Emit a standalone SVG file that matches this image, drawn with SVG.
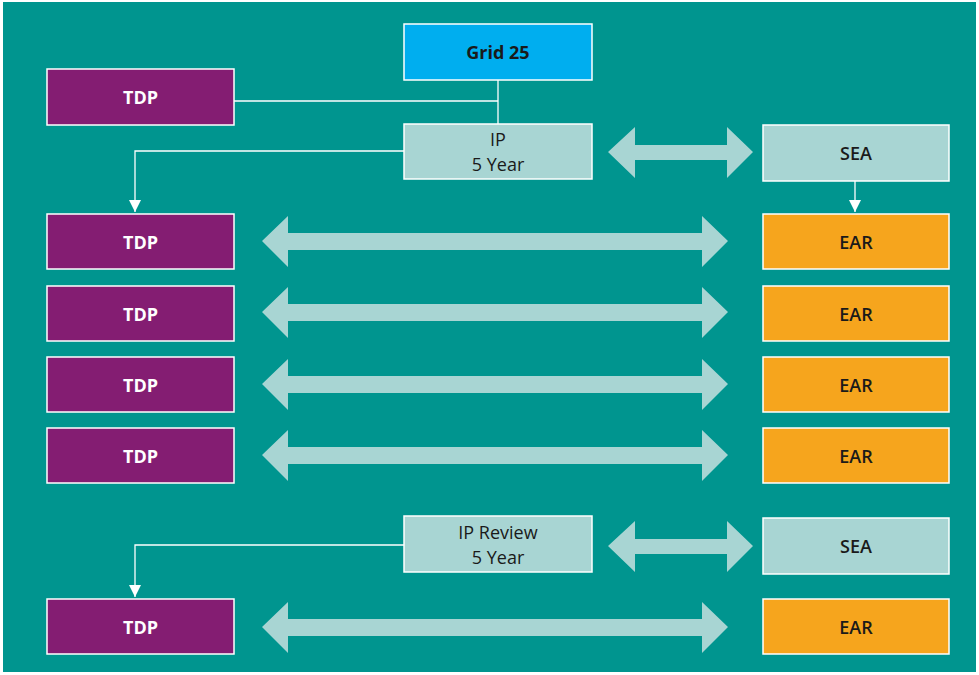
<svg xmlns="http://www.w3.org/2000/svg" width="979" height="675" viewBox="0 0 979 675">
<defs>
<style>
.bg{fill:#00958F}
.box{stroke:#FFFFFF;stroke-width:1.5}
.tdp{fill:#841D72}
.ear{fill:#F6A51D}
.lt{fill:#A8D5D3}
.blue{fill:#00AEEF}
.t{font-family:"Open Sans","Liberation Sans",sans-serif;font-size:18px;text-anchor:middle;dominant-baseline:central}
.w{fill:#FFFFFF;font-weight:bold}
.d{fill:#1A1A1A}
.b{font-weight:bold}
.m{font-weight:600}
.ln{fill:none;stroke:#FFFFFF;stroke-width:1.3}
.dbl{fill:#A8D5D3}
</style>
<marker id="ah" viewBox="0 0 10 10" refX="10" refY="5" markerWidth="12" markerHeight="12" markerUnits="userSpaceOnUse" orient="auto">
<path d="M0,0 L10,5 L0,10 Z" fill="#FFFFFF"/>
</marker>
</defs>
<rect x="0" y="0" width="979" height="675" fill="#FFFFFF"/>
<rect class="bg" x="3" y="2" width="973" height="670"/>

<g id="connectors">
<path class="ln" d="M234,101 H498"/>
<path class="ln" d="M498,80 V124"/>
<path class="ln" d="M404,151 H135 V212" marker-end="url(#ah)"/>
<path class="ln" d="M855,181 V212" marker-end="url(#ah)"/>
<path class="ln" d="M404,545 H135 V597" marker-end="url(#ah)"/>
<path class="dbl" d="M608,152 L635,127 L635,145 L727,145 L727,127 L753,152 L727,178 L727,160 L635,160 L635,178 Z"/>
<path class="dbl" d="M608,546 L635,521 L635,539 L727,539 L727,521 L753,546 L727,572 L727,554 L635,554 L635,572 Z"/>
<path class="dbl" d="M262,241 L288,216 L288,233 L702,233 L702,216 L728,241 L702,267 L702,250 L288,250 L288,267 Z"/>
<path class="dbl" d="M262,312 L288,287 L288,304 L702,304 L702,287 L728,312 L702,338 L702,321 L288,321 L288,338 Z"/>
<path class="dbl" d="M262,384 L288,359 L288,376 L702,376 L702,359 L728,384 L702,410 L702,393 L288,393 L288,410 Z"/>
<path class="dbl" d="M262,455 L288,430 L288,447 L702,447 L702,430 L728,455 L702,481 L702,464 L288,464 L288,481 Z"/>
<path class="dbl" d="M262,627 L288,602 L288,619 L702,619 L702,602 L728,627 L702,653 L702,636 L288,636 L288,653 Z"/>
</g>

<g id="grid25"><rect class="box blue" x="404" y="24" width="188" height="56"/><text class="t d b" x="498" y="52">Grid 25</text></g>
<g id="tdp0"><rect class="box tdp" x="47" y="69" width="187" height="56"/><text class="t w" x="140.5" y="97">TDP</text></g>
<g id="ip"><rect class="box lt" x="404" y="124" width="188" height="55"/><text class="t d" x="498" y="139">IP</text><text class="t d" x="498" y="164">5 Year</text></g>
<g id="sea1"><rect class="box lt" x="763" y="125" width="186" height="56"/><text class="t d m" x="856" y="153">SEA</text></g>

<g id="tdp1"><rect class="box tdp" x="47" y="214" width="187" height="55"/><text class="t w" x="140.5" y="241.5">TDP</text></g>
<g id="tdp2"><rect class="box tdp" x="47" y="286" width="187" height="55"/><text class="t w" x="140.5" y="313.5">TDP</text></g>
<g id="tdp3"><rect class="box tdp" x="47" y="357" width="187" height="55"/><text class="t w" x="140.5" y="384.5">TDP</text></g>
<g id="tdp4"><rect class="box tdp" x="47" y="428" width="187" height="55"/><text class="t w" x="140.5" y="455.5">TDP</text></g>

<g id="ear1"><rect class="box ear" x="763" y="214" width="186" height="55"/><text class="t d m" x="856" y="241.5">EAR</text></g>
<g id="ear2"><rect class="box ear" x="763" y="286" width="186" height="55"/><text class="t d m" x="856" y="313.5">EAR</text></g>
<g id="ear3"><rect class="box ear" x="763" y="357" width="186" height="55"/><text class="t d m" x="856" y="384.5">EAR</text></g>
<g id="ear4"><rect class="box ear" x="763" y="428" width="186" height="55"/><text class="t d m" x="856" y="455.5">EAR</text></g>

<g id="ipreview"><rect class="box lt" x="404" y="516" width="188" height="56"/><text class="t d" x="498" y="532">IP Review</text><text class="t d" x="498" y="557">5 Year</text></g>
<g id="sea2"><rect class="box lt" x="763" y="518" width="186" height="56"/><text class="t d m" x="856" y="546">SEA</text></g>

<g id="tdp5"><rect class="box tdp" x="47" y="599" width="187" height="55"/><text class="t w" x="140.5" y="626.5">TDP</text></g>
<g id="ear5"><rect class="box ear" x="763" y="599" width="186" height="55"/><text class="t d m" x="856" y="626.5">EAR</text></g>
</svg>
